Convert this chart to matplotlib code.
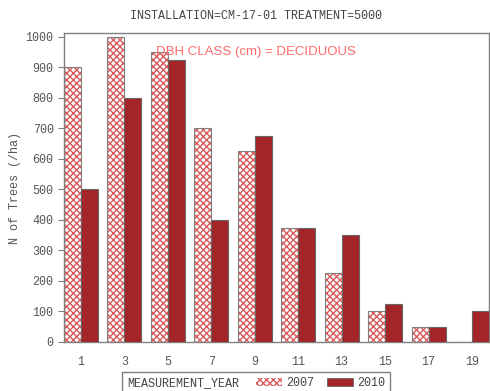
import matplotlib
matplotlib.use('Agg')
import matplotlib.pyplot as plt
from matplotlib.patches import Rectangle
import numpy as np

# DBH classes and stem counts per measurement year
dbh_class = [1, 3, 5, 7, 9, 11, 13, 15, 17, 19]
trees_2007 = [900, 1000, 950, 700, 625, 375, 225, 100, 50, 0]
trees_2010 = [500, 800, 925, 400, 675, 375, 350, 125, 50, 100]
y_ticks = [0, 100, 200, 300, 400, 500, 600, 700, 800, 900, 1000]

MONO = 'Liberation Mono'
GREY = '#555555'
EDGE = '#808080'
DARK_RED = '#a32528'
HATCH_RED = '#d85a5a'

plt.rcParams['hatch.linewidth'] = 1.0

fig = plt.figure(figsize=(4.9, 3.91), dpi=100)
ax = fig.add_axes([64 / 490, 49 / 391, 425 / 490, 309 / 391])

x = np.array(dbh_class, dtype=float)
w = 0.78

# 2007: crosshatch on white, then a grey outline on top
ax.bar(x - w / 2, trees_2007, width=w, color='white', edgecolor=HATCH_RED,
       hatch='xxxxx', linewidth=0, zorder=2)
ax.bar(x - w / 2, trees_2007, width=w, fill=False, edgecolor=EDGE,
       linewidth=0.8, zorder=3)
# 2010: solid dark red
ax.bar(x + w / 2, trees_2010, width=w, color=DARK_RED, edgecolor='#666666',
       linewidth=0.8, zorder=3)

ax.set_xlim(1 - w, 19 + w)
ax.set_ylim(0, 1013)
ax.set_xticks(dbh_class)
ax.set_yticks(y_ticks)
ax.tick_params(axis='x', length=0, pad=10, labelsize=8.5, labelcolor=GREY)
ax.tick_params(axis='y', length=4, width=0.8, color=EDGE, labelsize=8.5,
               labelcolor=GREY)
for lab in ax.get_xticklabels() + ax.get_yticklabels():
    lab.set_family(MONO)
for s in ax.spines.values():
    s.set_color(EDGE)
    s.set_linewidth(1.0)

ax.set_ylabel('N of Trees (/ha)', family=MONO, fontsize=8.5, color=GREY,
              labelpad=3)

fig.text(256 / 490, 1 - 16 / 391, 'INSTALLATION=CM-17-01 TREATMENT=5000',
         family=MONO, fontsize=8.5, color='#444444', ha='center', va='center')
fig.text(256 / 490, 1 - 52 / 391, 'DBH CLASS (cm) = DECIDUOUS',
         fontsize=9.5, color='#ff6b6b', ha='center', va='center',
         family='Liberation Sans')

# legend box at the bottom
fig.add_artist(Rectangle((122 / 490, -0.02), 268 / 490, (391 - 372) / 391 + 0.02,
                         transform=fig.transFigure, fill=False,
                         edgecolor=EDGE, linewidth=1.0))
fig.text(127 / 490, 1 - 383 / 391, 'MEASUREMENT_YEAR', family=MONO,
         fontsize=8.5, color='#444444', ha='left', va='center')
h07 = Rectangle((0, 0), 1, 1, facecolor='white', edgecolor=HATCH_RED,
                hatch='xxxxx', linewidth=0)
h10 = Rectangle((0, 0), 1, 1, facecolor=DARK_RED, edgecolor='#666666',
                linewidth=0.6)
leg = fig.legend([h07, h10], ['2007', '2010'], loc='center left',
                 bbox_to_anchor=(256 / 490, 1 - 383 / 391), ncol=2,
                 frameon=False, handlelength=2.2, handleheight=0.6,
                 handletextpad=0.35, columnspacing=1.1, borderpad=0,
                 borderaxespad=0, prop={'family': MONO, 'size': 8.5})
for t in leg.get_texts():
    t.set_color('#444444')

fig.savefig('out.png', dpi=100)
